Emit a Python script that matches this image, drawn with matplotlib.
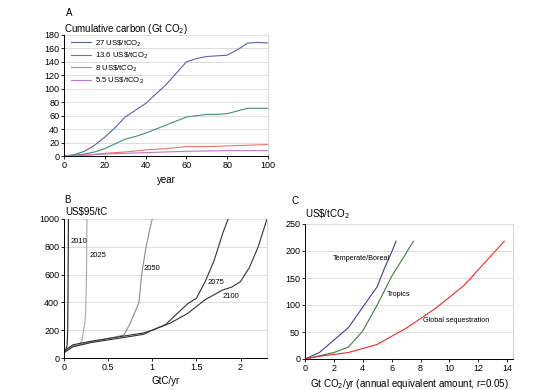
import matplotlib
matplotlib.use("Agg")
import matplotlib.pyplot as plt

plt.rcParams['font.family'] = ['Liberation Sans', 'DejaVu Sans']
plt.rcParams['font.size'] = 6.5

# panel A: cumulative carbon by carbon price
years = [0, 5, 10, 15, 20, 25, 30, 35, 40, 45, 50, 55, 60, 65, 70, 75, 80, 85, 90, 95, 100]
a_27 = [0, 2, 7, 16, 28, 42, 58, 68, 78, 92, 106, 123, 140, 145, 148, 149, 150, 158, 168, 169, 168]
a_136 = [0, 1, 3, 6, 11, 18, 25, 29, 34, 40, 46, 52, 58, 60, 62, 62, 63, 67, 71, 71, 71]
a_8 = [0, 0.5, 1.5, 2.5, 4, 5, 6, 7.5, 9, 10, 11, 12.5, 14, 14, 14, 14.5, 15, 15.5, 16, 16.5, 17]
a_55 = [0, 0.4, 1, 2, 3, 3.5, 4, 4.5, 5, 5.5, 6, 6.5, 7, 7.2, 7.5, 7.7, 8, 8, 8, 8, 8]
a_labels = ['27 US\\$/tCO$_2$', '13.6 US\\$/tCO$_2$', '8 US\\$/tCO$_2$', '5.5 US\\$/tCO$_2$']

# panel B: supply curves by year (GtC/yr, US$/tC)
b_2010_x = [0, 0.02, 0.035, 0.042, 0.046, 0.05]
b_2010_y = [30, 60, 90, 200, 500, 1000]
b_2025_x = [0, 0.05, 0.15, 0.2, 0.235, 0.245, 0.255, 0.26]
b_2025_y = [40, 75, 95, 115, 250, 330, 600, 1000]
b_2050_x = [0, 0.1, 0.3, 0.5, 0.68, 0.75, 0.85, 0.88, 0.93, 0.97, 1.0]
b_2050_y = [35, 85, 115, 140, 165, 250, 400, 600, 800, 920, 1000]
b_2075_x = [0, 0.1, 0.3, 0.6, 0.9, 1.0, 1.15, 1.3, 1.4, 1.5, 1.6, 1.7, 1.8, 1.86]
b_2075_y = [50, 95, 120, 150, 180, 200, 240, 330, 390, 430, 550, 700, 900, 1000]
b_2100_x = [0, 0.1, 0.3, 0.6, 0.9, 1.0, 1.2, 1.4, 1.6, 1.8, 1.9, 2.0, 2.1, 2.2, 2.3]
b_2100_y = [40, 80, 110, 140, 170, 200, 250, 320, 420, 490, 510, 550, 650, 800, 1000]

# panel C: forestry vs global sequestration
c_tb_x = [0, 1, 2, 3, 4, 5, 5.5, 6, 6.3]
c_tb_y = [0, 12, 35, 58, 96, 134, 168, 198, 218]
c_tr_x = [0, 1, 2, 3, 4, 5, 6, 7, 7.5]
c_tr_y = [0, 6, 12, 22, 52, 100, 153, 196, 218]
c_gs_x = [0, 1, 3, 5, 7, 9, 11, 12.5, 13.8]
c_gs_y = [0, 5, 12, 27, 57, 93, 136, 180, 218]

fig = plt.figure(figsize=(5.38, 3.9), dpi=100)

def style(ax):
    ax.spines['top'].set_visible(False)
    ax.spines['right'].set_color('#d8d8d8')
    ax.spines['left'].set_linewidth(0.7)
    ax.spines['bottom'].set_linewidth(0.7)
    ax.yaxis.grid(True, color='#dcdcdc', linewidth=0.7)
    ax.set_axisbelow(True)
    ax.tick_params(length=2, width=0.6, pad=1.5, labelsize=6.5)

# A
axA = fig.add_axes([64/538, 1-156/390, 204/538, 121/390])
axA.plot(years, a_27, color='#5563ad', lw=0.8, label=a_labels[0])
axA.plot(years, a_136, color='#3f8f7f', lw=0.8, label=a_labels[1])
axA.plot(years, a_8, color='#f07070', lw=0.8, label=a_labels[2])
axA.plot(years, a_55, color='#b57cc8', lw=0.8, label=a_labels[3])
axA.set_xlim(0, 100)
axA.set_ylim(0, 180)
axA.set_yticks(range(0, 181, 20))
axA.set_xticks(range(0, 101, 20))
style(axA)
axA.legend(loc='upper left', frameon=False, fontsize=5.6, handlelength=2.6,
           handletextpad=0.5, labelspacing=0.25, borderaxespad=0.0,
           bbox_to_anchor=(0.02, 1.0))
axA.set_xlabel('year', fontsize=7, labelpad=4)
fig.text(66/538, 1-13/390, 'A', fontsize=7, va='center')
fig.text(64/538, 1-29/390, 'Cumulative carbon (Gt CO$_2$)', fontsize=7, va='center')

# B
axB = fig.add_axes([64/538, 1-358/390, 203/538, 139/390])
axB.plot(b_2010_x, b_2010_y, color='#222222', lw=0.8)
axB.plot(b_2025_x, b_2025_y, color='#a8a8a8', lw=0.8)
axB.plot(b_2050_x, b_2050_y, color='#8c8c8c', lw=0.8)
axB.plot(b_2075_x, b_2075_y, color='#333333', lw=0.8)
axB.plot(b_2100_x, b_2100_y, color='#333333', lw=0.8)
for txt, x, y in [('2010', 0.07, 840), ('2025', 0.285, 735), ('2050', 0.905, 643),
                  ('2075', 1.63, 540), ('2100', 1.80, 440)]:
    axB.text(x, y, txt, fontsize=5.5, va='center')
axB.set_xlim(0, 2.3)
axB.set_ylim(0, 1000)
axB.set_yticks(range(0, 1001, 200))
axB.set_xticks([0, 0.5, 1, 1.5, 2])
axB.set_xticklabels(['0', '0.5', '1', '1.5', '2'])
style(axB)
axB.set_xlabel('GtC/yr', fontsize=7, labelpad=3)
fig.text(64/538, 1-200/390, 'B', fontsize=7, va='center')
fig.text(65/538, 1-212/390, 'US$95/tC', fontsize=7, va='center')

# C
axC = fig.add_axes([305/538, 1-359/390, 208/538, 135/390])
axC.plot(c_tb_x, c_tb_y, color='#3c3c9c', lw=0.8)
axC.plot(c_tr_x, c_tr_y, color='#3a7e3a', lw=0.8)
axC.plot(c_gs_x, c_gs_y, color='#ee2a2a', lw=0.8)
axC.text(1.96, 187, 'Temperate/Boreal', fontsize=5.2, va='center')
axC.text(5.7, 119, 'Tropics', fontsize=5.2, va='center')
axC.text(8.2, 72, 'Global sequestration', fontsize=5.2, va='center')
axC.set_xlim(0, 14.4)
axC.set_ylim(0, 250)
axC.set_yticks(range(0, 251, 50))
axC.set_xticks(range(0, 15, 2))
style(axC)
axC.set_xlabel('Gt CO$_2$/yr (annual equivalent amount, r=0.05)', fontsize=7, labelpad=3)
fig.text(291/538, 1-201/390, 'C', fontsize=7, va='center')
fig.text(305/538, 1-214/390, 'US\\$/tCO$_2$', fontsize=7, va='center')

fig.savefig('out.png', dpi=100)
